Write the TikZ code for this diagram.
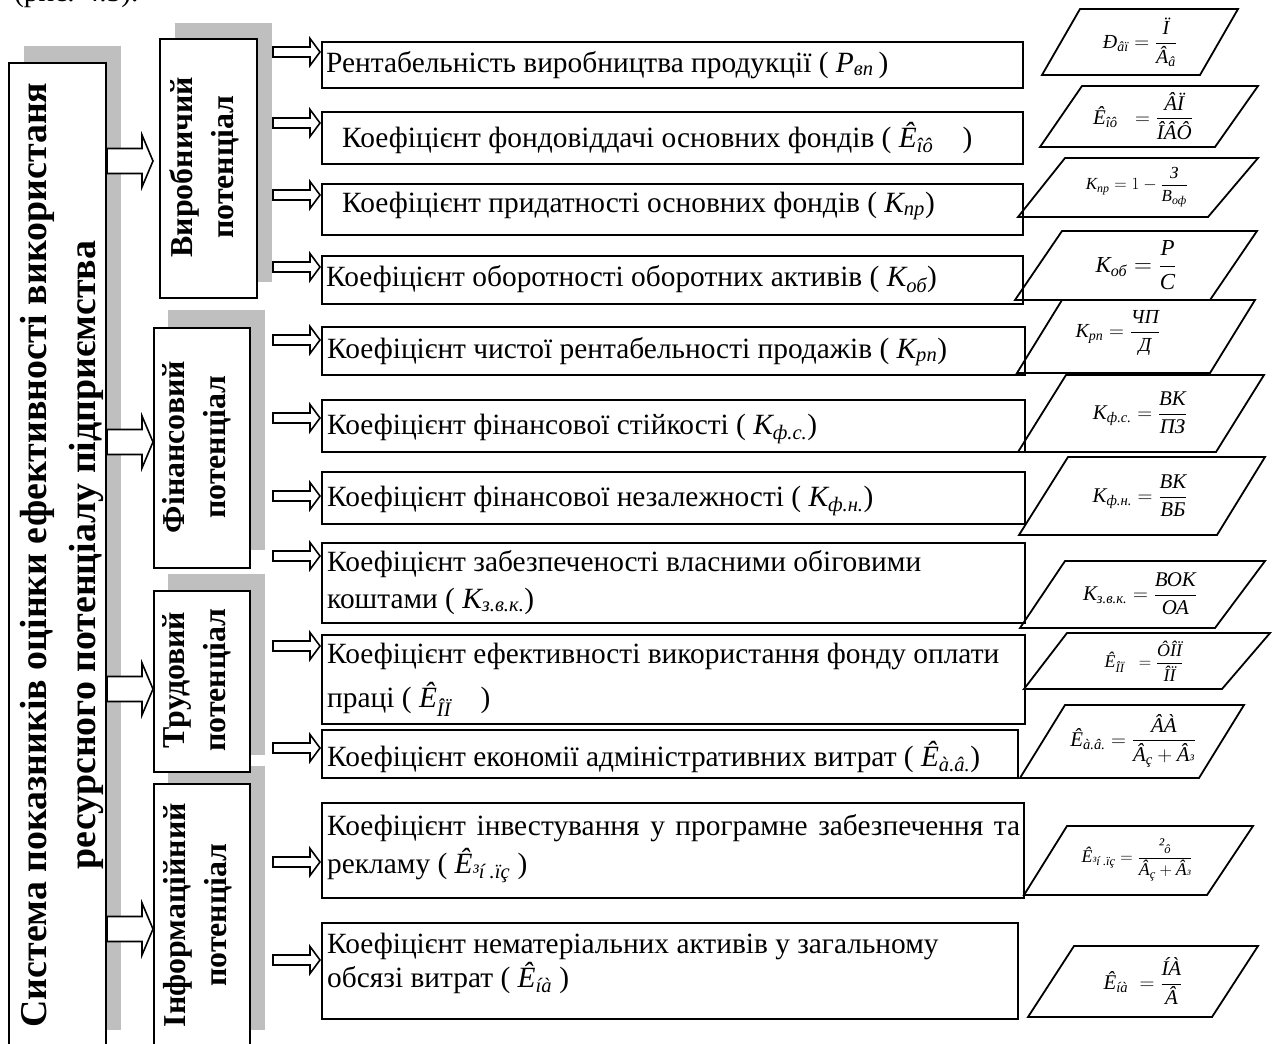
\documentclass[tikz,border=0pt]{standalone}
\usepackage{fontspec}
\setmainfont{Liberation Serif}
\usepackage{amsmath}
\usetikzlibrary{calc}
\newcommand\ti[1]{\textit{#1}}
\definecolor{shade}{gray}{0.75}
\newcommand\rbox[6]{\node[#2, anchor=north west, minimum width={(#5-#3)*1bp}, minimum height={(#6-#4)*1bp}, inner sep=0pt] (#1) at (#3,#4) {};}
\newcommand\fatarrow[4]{%
 \draw[fat] ($(#1.east |- 0,#3)+(0,-12.5)$) -- ($(#2.west |- 0,#3)+(-#4-11,-12.5)$) -- ($(#2.west |- 0,#3)+(-#4-11,-26)$) -- ($(#2.west |- 0,#3)+(-#4,0)$) -- ($(#2.west |- 0,#3)+(-#4-11,26)$) -- ($(#2.west |- 0,#3)+(-#4-11,12.5)$) -- ($(#1.east |- 0,#3)+(0,12.5)$) -- cycle;}
\newcommand\thinarrow[2]{%
 \draw[fat] ($(ac |- 0,#1)+(0,-5)$) -- ($(#2.west |- 0,#1)+(-11,-5)$) -- ($(#2.west |- 0,#1)+(-11,-13.5)$) -- ($(#2.west |- 0,#1)+(-1,0)$) -- ($(#2.west |- 0,#1)+(-11,13.5)$) -- ($(#2.west |- 0,#1)+(-11,5)$) -- ($(ac |- 0,#1)+(0,5)$) -- cycle;}
\begin{document}
\begin{tikzpicture}[x=1bp,y=-1bp,
  shadowbox/.style={fill=shade, draw=none},
  potbox/.style={draw, line width=2bp, fill=white},
  ibox/.style={draw, line width=1.8bp, fill=white},
  fat/.style={draw, line width=1.6bp, fill=white, line join=miter},
  para/.style={draw, line width=1.8bp},
  pottext/.style={rotate=90, align=center, inner sep=0pt, font=\bfseries\fontsize{32}{41}\selectfont},
  itext/.style={anchor=base west, inner sep=0pt, font=\fontsize{29.5}{35}\selectfont},
  ftext/.style={inner sep=0pt}]
\fill[white] (0,0) rectangle (1273,1044);
\useasboundingbox (0,0) rectangle (1273,1044);
\node[anchor=base west, inner sep=0pt, font=\fontsize{29.5}{35}\selectfont] (cap) at (14,1) {(рис. 4.5).};
% main box
\rbox{mainsh}{shadowbox}{24}{46}{121}{1030}
\rbox{main}{potbox}{8}{62}{105}{1047}
\node[rotate=90, align=center, inner sep=0pt, font=\bfseries\fontsize{38}{50}\selectfont] (maint) at (62,555)
  {Система показників оцінки ефективності використаня\\ресурсного потенціалу підприємства};
% potential boxes
\rbox{pvsh}{shadowbox}{175}{23}{272}{282}
\rbox{pfsh}{shadowbox}{168}{310}{265}{550}
\rbox{ptsh}{shadowbox}{168}{574}{265}{755}
\rbox{pish}{shadowbox}{168}{766}{265}{1030}
\rbox{pv}{potbox}{159}{38}{256}{297}
\rbox{pf}{potbox}{153}{327}{249}{567}
\rbox{pt}{potbox}{153}{590}{249}{771}
\rbox{pi}{potbox}{153}{783}{249}{1047}
\node[pottext] (pvt) at (204,167) {Виробничий\\потенціал};
\node[pottext] (pft) at (197,447) {Фінансовий\\потенціал};
\node[pottext] (ptt) at (197,680) {Трудовий\\потенціал};
\node[pottext] (pit) at (198,915) {Інформаційний\\потенціал};
% big arrows
\fatarrow{main}{pv}{161}{6}
\fatarrow{main}{pf}{442}{0}
\fatarrow{main}{pt}{689}{0}
\fatarrow{main}{pi}{929}{0}
% indicator boxes
\rbox{b1}{ibox}{321}{41}{1022}{87}
\rbox{b2}{ibox}{321}{111}{1022}{163}
\rbox{b3}{ibox}{321}{183}{1022}{234}
\rbox{b4}{ibox}{321}{255}{1022}{303}
\rbox{b5}{ibox}{321}{326}{1024}{374}
\rbox{b6}{ibox}{321}{399}{1024}{451}
\rbox{b7}{ibox}{321}{471}{1024}{523}
\rbox{b8}{ibox}{321}{542}{1024}{622}
\rbox{b9}{ibox}{321}{634}{1024}{723}
\rbox{b10}{ibox}{321}{729}{1017}{777}
\rbox{b11}{ibox}{321}{802}{1023}{897}
\rbox{b12}{ibox}{321}{922}{1017}{1018}
% small arrows
\coordinate (ac) at (273,0);
\thinarrow{52}{b1}
\thinarrow{123}{b2}
\thinarrow{195}{b3}
\thinarrow{267}{b4}
\thinarrow{340}{b5}
\thinarrow{418}{b6}
\thinarrow{496}{b7}
\thinarrow{556}{b8}
\thinarrow{646}{b9}
\thinarrow{748}{b10}
\thinarrow{862}{b11}
\thinarrow{960}{b12}
% indicator texts
\node[itext] (t1) at (326,72) {Рентабельність виробництва продукції ( $\ti{Р}_{\ti{вп}}$\,)};
\node[itext] (t2) at (342,147) {Коефіцієнт фондовіддачі основних фондів ( $\ti{Ê}_{\ti{îô}}$\quad)};
\node[itext] (t3) at (342,212) {Коефіцієнт придатності основних фондів ( $\ti{К}_{\ti{пр}}$)};
\node[itext] (t4) at (326,286) {Коефіцієнт оборотності оборотних активів ( $\ti{К}_{\ti{об}}$)};
\node[itext] (t5) at (327,358) {Коефіцієнт чистої рентабельності продажів ( $\ti{К}_{\ti{рп}}$)};
\node[itext] (t6) at (327,434) {Коефіцієнт фінансової стійкості ( $\ti{К}_{\ti{ф.с.}}$)};
\node[itext] (t7) at (327,506) {Коефіцієнт фінансової незалежності ( $\ti{К}_{\ti{ф.н.}}$)};
\node[itext] (t8a) at (327,571) {Коефіцієнт забезпеченості власними обіговими};
\node[itext] (t8b) at (327,608) {коштами ( $\ti{К}_{\ti{з.в.к.}}$)};
\node[itext] (t9a) at (327,663) {Коефіцієнт ефективності використання фонду оплати};
\node[itext] (t9b) at (327,707) {праці ( $\ti{Ê}_{\ti{ÎÏ}}$\quad)};
\node[itext] (t10) at (327,766) {Коефіцієнт економії адміністративних витрат ( $\ti{Ê}_{\ti{à.â.}}$)};
\node[itext] (t11a) at (327,835) {\makebox[693bp][s]{Коефіцієнт інвестування у програмне забезпечення та}};
\node[itext] (t11b) at (327,873) {рекламу ( $\ti{Ê}_{\ti{³í .ïç}}$ )};
\node[itext] (t12a) at (327,953) {Коефіцієнт нематеріальних активів у загальному};
\node[itext] (t12b) at (327,987) {обсязі витрат ( $\ti{Ê}_{\ti{íà}}$ )};
% parallelograms
\draw[para] (1080,9) -- (1238,9) -- (1200,75) -- (1042,75) -- cycle;
\draw[para] (1082,86) -- (1258,86) -- (1215,147) -- (1040,147) -- cycle;
\draw[para] (1065,158) -- (1258,158) -- (1208,217) -- (1018,217) -- cycle;
\draw[para] (1062,231) -- (1257,231) -- (1210,300) -- (1015,300) -- cycle;
\draw[para] (1062,300) -- (1255,300) -- (1210,373) -- (1017,373) -- cycle;
\draw[para] (1066,375) -- (1264,375) -- (1216,452) -- (1018,452) -- cycle;
\draw[para] (1068,457) -- (1265,457) -- (1217,535) -- (1019,535) -- cycle;
\draw[para] (1065,561) -- (1265,561) -- (1215,628) -- (1020,628) -- cycle;
\draw[para] (1067,633) -- (1270,633) -- (1222,689) -- (1024,689) -- cycle;
\draw[para] (1065,705) -- (1244,705) -- (1199,778) -- (1020,778) -- cycle;
\draw[para] (1067,826) -- (1253,826) -- (1207,895) -- (1024,895) -- cycle;
\draw[para] (1074,946) -- (1258,946) -- (1212,1017) -- (1028,1017) -- cycle;
% formulas
\node[ftext, font=\fontsize{20}{24}\selectfont] (f1) at (1140,42) {$\ti{Ð}_{\ti{âï}} = \dfrac{\ti{Ï}}{\ti{Â}_{\ti{â}}}$};
\node[ftext, font=\fontsize{21}{25}\selectfont] (f2) at (1143,116) {$\ti{Ê}_{\ti{îô}}\;\; = \dfrac{\ti{ÂÏ}}{\ti{ÎÂÔ}}$};
\node[ftext, font=\fontsize{17}{20}\selectfont] (f3) at (1137,187) {$\ti{К}_{\ti{пр}} = 1 - \dfrac{\ti{З}}{\ti{В}_{\ti{оф}}}$};
\node[ftext, font=\fontsize{23}{27}\selectfont] (f4) at (1136,265) {$\ti{К}_{\ti{об}} = \dfrac{\ti{Р}}{\ti{С}}$};
\node[ftext, font=\fontsize{20}{24}\selectfont] (f5) at (1118,333) {$\ti{К}_{\ti{рп}} = \dfrac{\ti{ЧП}}{\ti{Д}}$};
\node[ftext, font=\fontsize{21}{25}\selectfont] (f6) at (1140,413) {$\ti{К}_{\ti{ф.с.}} = \dfrac{\ti{ВК}}{\ti{ПЗ}}$};
\node[ftext, font=\fontsize{21}{25}\selectfont] (f7) at (1140,496) {$\ti{К}_{\ti{ф.н.}} = \dfrac{\ti{ВК}}{\ti{ВБ}}$};
\node[ftext, font=\fontsize{21}{25}\selectfont] (f8) at (1140,594) {$\ti{К}_{\ti{з.в.к.}} = \dfrac{\ti{ВОК}}{\ti{ОА}}$};
\node[ftext, font=\fontsize{18}{22}\selectfont] (f9) at (1144,661) {$\ti{Ê}_{\ti{ÎÏ}}\;\; = \dfrac{\ti{ÔÎÏ}}{\ti{ÎÏ}}$};
\node[ftext, font=\fontsize{21}{25}\selectfont] (f10) at (1133,741) {$\ti{Ê}_{\ti{à.â.}} = \dfrac{\ti{ÂÀ}}{\ti{Â}_{\ti{ç}} + \ti{Â}_{\ti{³}}}$};
\node[ftext, font=\fontsize{18}{22}\selectfont] (f11) at (1137,860) {$\ti{Ê}_{\ti{³í .ïç}} = \dfrac{\ti{²}_{\ti{ô}}}{\ti{Â}_{\ti{ç}} + \ti{Â}_{\ti{³}}}$};
\node[ftext, font=\fontsize{21}{25}\selectfont] (f12) at (1143,981) {$\ti{Ê}_{\ti{íà}}\; = \dfrac{\ti{ÍÀ}}{\ti{Â}}$};
\end{tikzpicture}
\end{document}
